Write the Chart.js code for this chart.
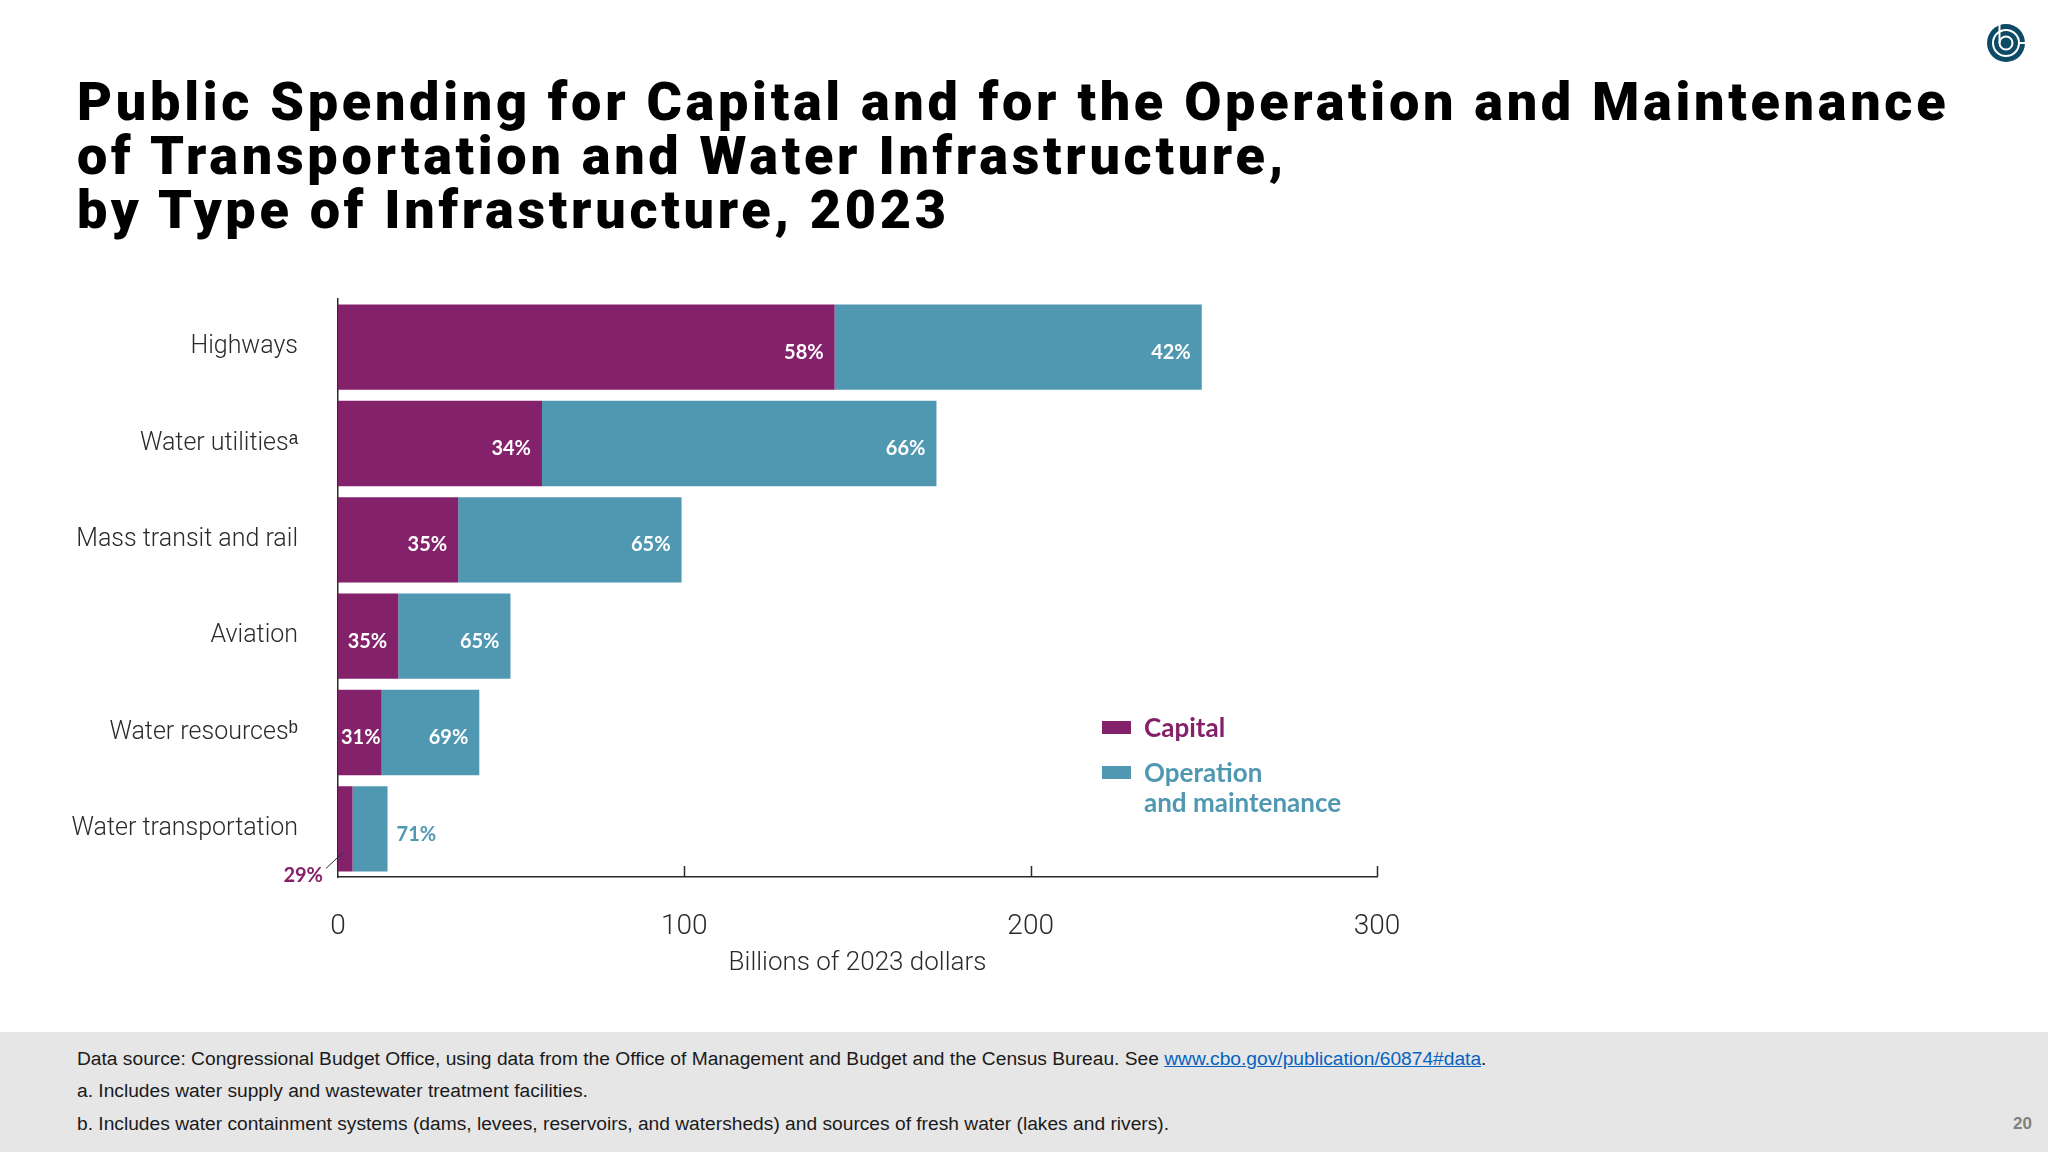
<!DOCTYPE html>
<html>
<head>
<meta charset="utf-8">
<script src="https://cdn.jsdelivr.net/npm/chart.js@4.4.1/dist/chart.umd.min.js"></script>
<style>
  html, body { margin: 0; padding: 0; background: #fff; }
  body { width: 2048px; height: 1152px; position: relative; overflow: hidden; font-family: "Liberation Sans", Arial, sans-serif; }
  #title { position: absolute; left: 77px; top: 75px; margin: 0; font-family: Roboto, "Liberation Sans", sans-serif; font-weight: 900; font-size: 54px; line-height: 54px; color: #000; letter-spacing: 3.7px; }
  #chart { position: absolute; left: 0; top: 0; }
  #legend { position: absolute; left: 1102px; top: 712px; font-family: Lato, "Open Sans", sans-serif; font-weight: 700; font-size: 26px; line-height: 30px; }
  #legend .item { display: flex; align-items: flex-start; margin-bottom: 15px; }
  #legend .box { width: 29px; height: 13px; margin-top: 9px; margin-right: 13px; }
  #legend .txt { white-space: pre-line; }
  #footer { position: absolute; left: 0; top: 1032px; width: 2048px; height: 120px; background: #e6e6e6; color: #1a1a1a; font-size: 19.2px; }
  #footer div { position: absolute; left: 77px; line-height: 32px; }
  #footer a { color: #0563c1; text-decoration: underline; }
  #page { position: absolute; right: 16px; top: 1108px; font-weight: 700; font-size: 17px; color: #808080; line-height: 32px; }
  #logo { position: absolute; left: 1985px; top: 22px; }
</style>
</head>
<body>
<h1 id="title">Public Spending for Capital and for the Operation and Maintenance<br>of Transportation and Water Infrastructure,<br>by Type of Infrastructure, 2023</h1>

<svg id="logo" width="42" height="42" viewBox="0 0 42 42">
  <circle cx="21" cy="21" r="19" fill="#0d4a66"/>
  <circle cx="21" cy="21" r="13" fill="none" stroke="#fff" stroke-width="2"/>
  <circle cx="21" cy="21" r="6.5" fill="none" stroke="#fff" stroke-width="2"/>
  <line x1="14.5" y1="21" x2="14.5" y2="2" stroke="#fff" stroke-width="2"/>
  <line x1="34" y1="21" x2="41" y2="21" stroke="#fff" stroke-width="2"/>
</svg>

<canvas id="chart" width="2048" height="1152"></canvas>
<div id="legend"></div>

<div id="footer">
  <div style="top:11px">Data source: Congressional Budget Office, using data from the Office of Management and Budget and the Census Bureau. See <a>www.cbo.gov/publication/60874#data</a>.</div>
  <div style="top:43px">a. Includes water supply and wastewater treatment facilities.</div>
  <div style="top:76px">b. Includes water containment systems (dams, levees, reservoirs, and watersheds) and sources of fresh water (lakes and rivers).</div>
</div>
<div id="page">20</div>

<script>
// billions of 2023 dollars
const categories = ['Highways', 'Water utilities\u1d43', 'Mass transit and rail', 'Aviation', 'Water resources\u1d47', 'Water transportation'];
const capital = [143.4, 58.9, 34.7, 17.4, 12.6, 4.2];
const operationMaintenance = [106.0, 113.9, 64.5, 32.4, 28.2, 10.1];
// percent labels as printed
const capitalShare = [58, 34, 35, 35, 31, 29];
const omShare = [42, 66, 65, 65, 69, 71];
const xTicks = [0, 100, 200, 300];

const purple = '#83216a';
const teal = '#5098b1';
const ink = '#2a2a2a';
const shares = [capitalShare, omShare];
const axisFont = 'Roboto, "Liberation Sans", sans-serif';

// small upward tick marks on the x axis
const axisTicks = {
  id: 'axisTicks',
  afterDraw(chart) {
    const ctx = chart.ctx, x = chart.scales.x, bottom = chart.chartArea.bottom;
    ctx.save();
    ctx.strokeStyle = ink;
    ctx.lineWidth = 1.5;
    xTicks.forEach(v => {
      if (v === 0) return;
      const px = Math.round(x.getPixelForValue(v)) + 0.5;
      ctx.beginPath();
      ctx.moveTo(px, bottom);
      ctx.lineTo(px, bottom - 11);
      ctx.stroke();
    });
    ctx.restore();
  }
};

// percentage labels on / beside the segments
const shareLabels = {
  id: 'shareLabels',
  afterDatasetsDraw(chart) {
    const ctx = chart.ctx;
    ctx.save();
    ctx.font = '700 20px Lato, "Open Sans", sans-serif';
    ctx.textBaseline = 'middle';
    chart.data.datasets.forEach((ds, d) => {
      chart.getDatasetMeta(d).data.forEach((bar, i) => {
        const p = bar.getProps(['x', 'y', 'base', 'height'], true);
        const w = p.x - p.base;
        const txt = shares[d][i] + '%';
        const tw = ctx.measureText(txt).width;
        if (w >= 40) {
          ctx.fillStyle = '#fff';
          ctx.textAlign = 'right';
          ctx.fillText(txt, Math.max(p.x - 11, p.base + 3 + tw), p.y + 5);
        } else if (d === 1) {
          ctx.fillStyle = teal;
          ctx.textAlign = 'left';
          ctx.fillText(txt, p.x + 9, p.y + 6);
        } else {
          const bottom = p.y + p.height / 2;
          ctx.strokeStyle = ink;
          ctx.lineWidth = 1;
          ctx.beginPath();
          ctx.moveTo(p.base - 12, bottom - 3);
          ctx.lineTo(p.base + 5, bottom - 19);
          ctx.stroke();
          ctx.fillStyle = purple;
          ctx.textAlign = 'right';
          ctx.fillText(txt, p.base - 15, bottom + 4);
        }
      });
    });
    ctx.restore();
  }
};

const chart = new Chart(document.getElementById('chart'), {
  type: 'bar',
  data: {
    labels: categories,
    datasets: [
      { label: 'Capital', data: capital, backgroundColor: purple, borderWidth: 0 },
      { label: 'Operation\nand maintenance', data: operationMaintenance, backgroundColor: teal, borderWidth: 0 }
    ]
  },
  options: {
    indexAxis: 'y',
    responsive: false,
    animation: false,
    devicePixelRatio: 1,
    categoryPercentage: 1,
    barPercentage: 0.885,
    layout: { padding: { left: 0, top: 299, right: 671, bottom: 165 } },
    plugins: { legend: { display: false }, tooltip: { enabled: false } },
    scales: {
      x: {
        stacked: true,
        min: 0,
        max: 300,
        afterFit: s => { s.height = 110; },
        afterBuildTicks: s => { s.ticks = xTicks.map(v => ({ value: v })); },
        grid: { display: false, drawTicks: false },
        border: { display: true, color: ink, width: 1.5 },
        ticks: { padding: 36, color: ink, font: { family: axisFont, weight: 300, size: 28, lineHeight: 1 } },
        title: { display: true, text: 'Billions of 2023 dollars', color: ink, padding: { top: 0, bottom: 11 }, font: { family: axisFont, weight: 300, size: 26, lineHeight: 1 } }
      },
      y: {
        stacked: true,
        afterFit: s => { s.width = 338; },
        grid: { display: false, drawTicks: false },
        border: { display: true, color: ink, width: 1.5 },
        ticks: { padding: 40, color: ink, font: { family: axisFont, weight: 300, size: 25 } }
      }
    }
  },
  plugins: [axisTicks, shareLabels]
});

// legend built from the datasets
const legend = document.getElementById('legend');
chart.data.datasets.forEach(ds => {
  const item = document.createElement('div');
  item.className = 'item';
  item.innerHTML = '<div class="box" style="background:' + ds.backgroundColor + '"></div>' +
    '<div class="txt" style="color:' + ds.backgroundColor + '">' + ds.label + '</div>';
  legend.appendChild(item);
});
</script>
</body>
</html>
